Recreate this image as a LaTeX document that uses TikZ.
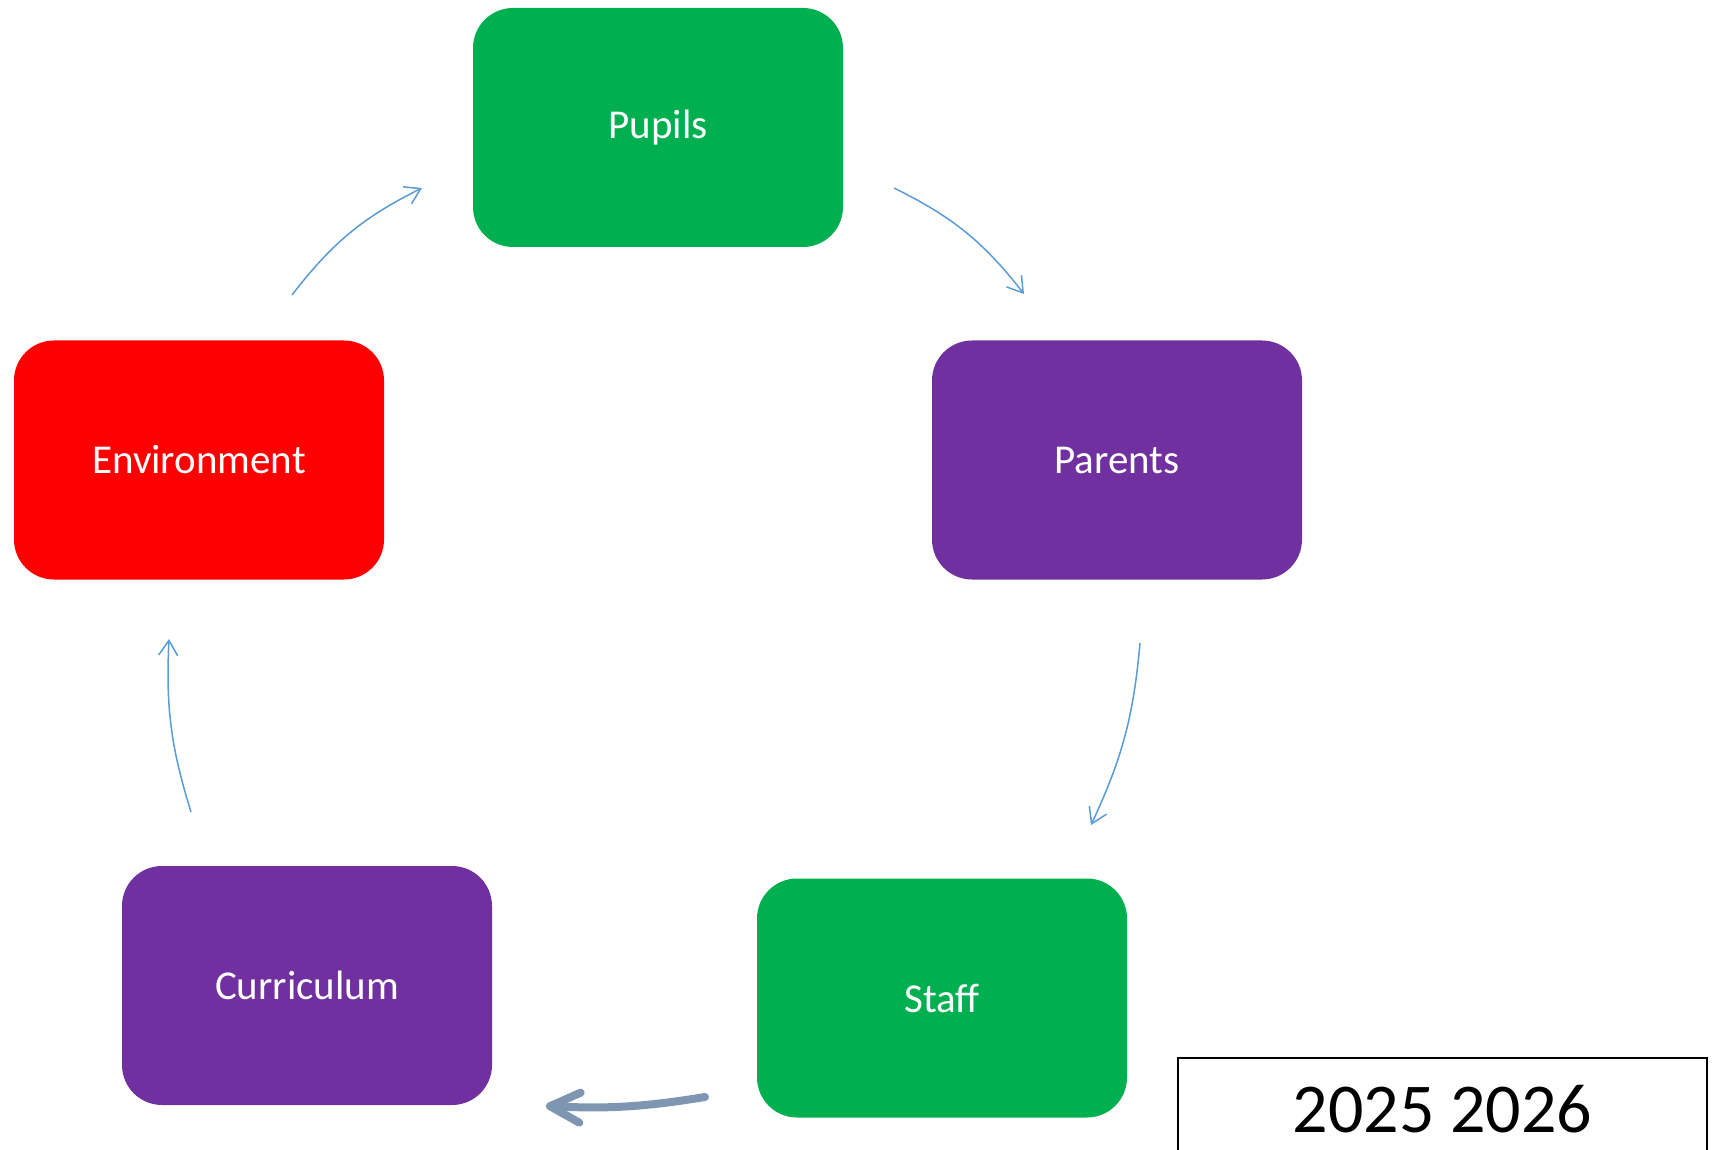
\documentclass[tikz,border=0pt]{standalone}
\usepackage{fontspec}
\setmainfont{Carlito}
\usepackage{tikz}
\usetikzlibrary{arrows.meta}
\definecolor{cyclegreen}{RGB}{0,176,80}
\definecolor{cyclepurple}{RGB}{112,48,160}
\definecolor{cyclered}{RGB}{255,0,0}
\definecolor{flowblue}{RGB}{91,155,213}
\definecolor{flowslate}{RGB}{127,150,178}
\tikzset{
    stage/.style={rectangle,rounded corners=40pt,minimum width=370pt,minimum height=239pt,inner sep=0pt,text=white,font=\fontsize{41}{49}\selectfont},
    flow/.style={draw=flowblue,line width=1.5pt,-{Straight Barb[length=15pt,width=19pt]}},
    backflow/.style={draw=flowslate,line width=8pt,line cap=round,-{Straight Barb[length=30pt,width=30pt,round]}},
    yearbox/.style={rectangle,draw,line width=2pt,minimum width=529pt,minimum height=103pt,inner sep=0pt,font=\fontsize{70}{84}\selectfont},
}

\begin{document}
\begin{tikzpicture}[x=1pt,y=1pt]
        \useasboundingbox (0,0) rectangle (1714,-1150);

        \node[stage,fill=cyclegreen] (pupils) at (658,-127.5) {Pupils};
        \node[stage,fill=cyclepurple] (parents) at (1117,-460) {Parents};
        \node[stage,fill=cyclegreen] (staff) at (942,-998) {Staff};
        \node[stage,fill=cyclepurple] (curriculum) at (307,-985.5) {Curriculum};
        \node[stage,fill=cyclered] (environment) at (199,-460) {Environment};
        \node[yearbox,anchor=north west] (year) at (1177,-1057) {2025 2026};

        % ends of the arrows
        \coordinate (pu-out) at (894,-188);
        \coordinate (pa-in) at (1024,-294);
        \coordinate (pa-out) at (1140,-643);
        \coordinate (st-in) at (1091,-825);
        \coordinate (st-out) at (705,-1097);
        \coordinate (cu-in) at (546,-1106);
        \coordinate (cu-out) at (191,-812);
        \coordinate (en-in) at (169,-639);
        \coordinate (en-out) at (292,-295);
        \coordinate (pu-in) at (422,-188);

        \draw[flow] (pu-out) to[bend left=13] (pa-in);
        \draw[flow] (pa-out) to[bend left=10] (st-in);
        \draw[backflow] (st-out) to[bend left=6] (cu-in);
        \draw[flow] (cu-out) to[bend left=10] (en-in);
        \draw[flow] (en-out) to[bend left=13] (pu-in);
\end{tikzpicture}
\end{document}
